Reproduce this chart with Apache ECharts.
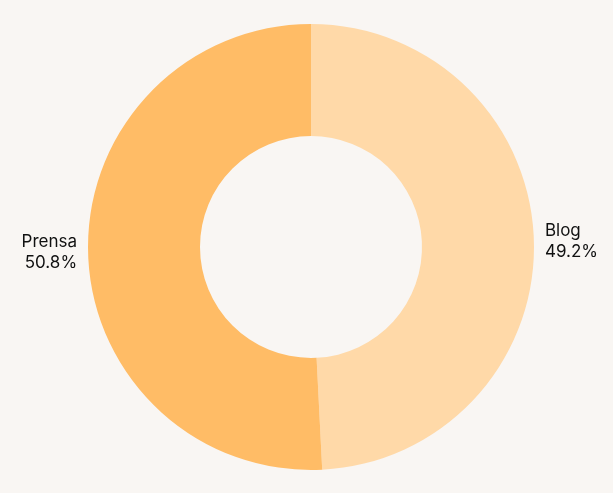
<!DOCTYPE html>
<html><head><meta charset="utf-8">
<script src="https://cdn.jsdelivr.net/npm/echarts@6/dist/echarts.min.js"></script>
<style>html,body{margin:0;padding:0;background:#f9f6f3;}#c{width:613px;height:493px;}</style>
</head><body><div id="c"></div>
<script>
const categories = ["Blog", "Prensa"];
const values = [49.2, 50.8];
const colors = ["#FFD9A8", "#FFBC66"];
const chart = echarts.init(document.getElementById('c'));
chart.setOption({
  backgroundColor: '#f9f6f3',
  series: [{
    type: 'pie',
    center: [311, 247],
    radius: [111, 223],
    startAngle: 90,
    clockwise: true,
    data: categories.map((n, i) => ({name: n, value: values[i], itemStyle: {color: colors[i]}})),
    label: {
      show: true, position: 'outside', formatter: '{b}\n{d}%',
      color: '#111', fontSize: 17, lineHeight: 21, fontFamily: 'Inter, sans-serif',
      align: 'center'
    },
    labelLine: {show: false, length: 6, length2: 0},
    emphasis: {disabled: true}
  }]
});
</script></body></html>
